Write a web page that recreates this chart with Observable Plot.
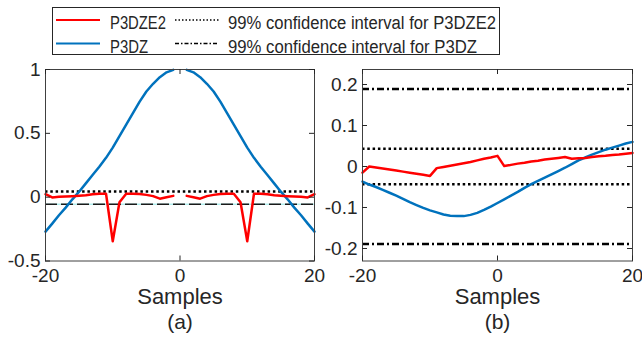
<!DOCTYPE html>
<html><head><meta charset="utf-8">
<script src="https://cdn.jsdelivr.net/npm/d3@7"></script>
<script src="https://cdn.jsdelivr.net/npm/@observablehq/plot@0.6"></script>
<style>
body{margin:0;background:#fff;font-family:"Liberation Sans",Arial,sans-serif;}
#wrap{position:relative;width:642px;height:344px;overflow:hidden;background:#fff}
#pa{position:absolute;left:0;top:0}
#pb{position:absolute;left:320px;top:0}
#legend{position:absolute;left:0;top:0}
</style></head><body>
<div id="wrap"><div id="pa"></div><div id="pb"></div><svg id="legend" width="642" height="60"></svg></div>
<script>
// ---- data ----
const lags = [-20,-19,-18,-17,-16,-15,-14,-13,-12,-11,-10,-9,-8,-7,-6,-5,-4,-3,-2,-1,0,1,2,3,4,5,6,7,8,9,10,11,12,13,14,15,16,17,18,19,20];
const p3dze2A = [0.023,-0.002,0.003,0.005,0.008,0.011,0.015,0.022,0.027,0.027,-0.345,-0.04,0.027,0.027,0.025,0.018,0.008,-0.012,0.0,0.01,
  null,
  0.01,0.0,-0.012,0.008,0.018,0.025,0.027,0.027,-0.04,-0.345,0.027,0.027,0.022,0.015,0.011,0.008,0.005,0.003,-0.002,0.023];
const p3dzA = [-0.27,-0.207,-0.142,-0.082,-0.017,0.043,0.108,0.173,0.238,0.308,0.388,0.478,0.568,0.658,0.748,0.828,0.888,0.94,0.978,0.997,
  null,
  0.997,0.978,0.94,0.888,0.828,0.748,0.658,0.568,0.478,0.388,0.308,0.238,0.173,0.108,0.043,-0.017,-0.082,-0.142,-0.207,-0.27];
const p3dze2B = [-0.015,0.0,-0.0025,-0.005,-0.0075,-0.01,-0.0125,-0.015,-0.0175,-0.02,-0.023,-0.004,-0.001,0.002,0.005,0.008,0.011,0.015,0.019,0.022,
  0.026,0.001,0.004,0.007,0.009,0.012,0.014,0.017,0.019,0.021,0.023,0.019,0.02,0.021,0.023,0.025,0.026,0.028,0.029,0.031,0.033];
const p3dzB = [-0.037,-0.044,-0.05,-0.057,-0.064,-0.071,-0.079,-0.087,-0.094,-0.101,-0.107,-0.112,-0.117,-0.12,-0.121,-0.121,-0.118,-0.113,-0.106,-0.098,
  -0.089,-0.08,-0.071,-0.062,-0.052,-0.043,-0.035,-0.027,-0.019,-0.011,-0.003,0.006,0.015,0.022,0.029,0.035,0.041,0.046,0.051,0.056,0.06];
const ciDottedA = [0.044];
const ciDashedA = [-0.055];
const ciP3DZE2B = [-0.043, 0.043];
const ciP3DZB = [-0.189, 0.189];
const xTicks = [-20, 0, 20];
const yTicksA = [-0.5, 0, 0.5, 1];
const yTicksB = [-0.2, -0.1, 0, 0.1, 0.2];
const legendLabels = ["P3DZE2", "P3DZ", "99% confidence interval for P3DZE2", "99% confidence interval for P3DZ"];
const panelLabels = ["(a)", "(b)"];

const RED = "#ff0000", BLUE = "#0072bd", INK = "#262626";
const DOT = "2.5,2.8", DASHDOT = "7,3,2,3";
const rows = (ys) => lags.map((x, i) => ({x, y: ys[i]}));

function panel({width, ml, mr, yDomain, yTicks, marks, tag}) {
  const H = 344, mt = 69, mb = 83.5;
  const iw = width - ml - mr, ih = H - mt - mb;
  return Plot.plot({
    width, height: H, marginTop: mt, marginBottom: mb, marginLeft: ml, marginRight: mr,
    x: {domain: [-20, 20]},
    y: {domain: yDomain},
    style: {fontFamily: '"Liberation Sans", Arial, sans-serif', color: INK, background: "transparent", overflow: "visible"},
    marks: [
      ...marks,
      Plot.frame({stroke: "#404040", strokeWidth: 1}),
      Plot.tickY(yTicks, {y: d => d, insetRight: iw - 5, stroke: INK}),
      Plot.tickY(yTicks, {y: d => d, insetLeft: iw - 5, stroke: INK}),
      Plot.tickX(xTicks, {x: d => d, insetTop: ih - 5, stroke: INK}),
      Plot.tickX(xTicks, {x: d => d, insetBottom: ih - 5, stroke: INK}),
      Plot.axisY(yTicks, {anchor: "left", tickSize: 0, tickPadding: 5, fontSize: 19, tickFormat: d => String(d), label: null}),
      Plot.axisX(xTicks, {anchor: "bottom", tickSize: 0, tickPadding: 7.5, fontSize: 19, tickFormat: d => String(d), label: null}),
      Plot.text(["Samples"], {text: d => d, frameAnchor: "bottom", dy: 43, fontSize: 22, fill: INK}),
      Plot.text([tag], {text: d => d, frameAnchor: "bottom", dy: 68, fontSize: 21, fill: INK})
    ]
  });
}

const figA = panel({
  width: 320, ml: 45, mr: 6, yDomain: [-0.5, 1], yTicks: yTicksA, tag: panelLabels[0],
  marks: [
    Plot.ruleY(ciDashedA, {y: d => d, stroke: "#8fe6e6", strokeWidth: 1}),
    Plot.ruleY(ciDashedA, {y: d => d, stroke: "#1a1a1a", strokeWidth: 1.6, strokeDasharray: "12,4"}),
    Plot.ruleY(ciDottedA, {y: d => d, stroke: "#000", strokeWidth: 2.5, strokeDasharray: DOT}),
    Plot.line(rows(p3dzA), {x: "x", y: "y", stroke: BLUE, strokeWidth: 2.5}),
    Plot.line(rows(p3dze2A), {x: "x", y: "y", stroke: RED, strokeWidth: 2.5})
  ]
});
const figB = panel({
  width: 322, ml: 42, mr: 10, yDomain: [-0.2305, 0.2366], yTicks: yTicksB, tag: panelLabels[1],
  marks: [
    Plot.ruleY(ciP3DZB, {y: d => d, stroke: "#000", strokeWidth: 2.5, strokeDasharray: DASHDOT}),
    Plot.ruleY(ciP3DZE2B, {y: d => d, stroke: "#000", strokeWidth: 2.5, strokeDasharray: DOT}),
    Plot.line(rows(p3dzB), {x: "x", y: "y", stroke: BLUE, strokeWidth: 2.5}),
    Plot.line(rows(p3dze2B), {x: "x", y: "y", stroke: RED, strokeWidth: 2.5})
  ]
});
document.getElementById("pa").appendChild(figA);
document.getElementById("pb").appendChild(figB);

// ---- legend ----
const lg = d3.select("#legend");
lg.append("rect").attr("x", 52.5).attr("y", 7.5).attr("width", 447).attr("height", 47)
  .attr("fill", "#fff").attr("stroke", INK).attr("stroke-width", 1);
const items = [
  {lx: 56, ly: 20, stroke: RED, dash: null, w: 2, tx: 110, ty: 29, tl: 56, label: legendLabels[0]},
  {lx: 56, ly: 43.5, stroke: BLUE, dash: null, w: 2, tx: 110, ty: 53, tl: 38, label: legendLabels[1]},
  {lx: 175, ly: 20, stroke: "#000", dash: "1.5,2", w: 1.5, tx: 228, ty: 29, tl: 268, label: legendLabels[2]},
  {lx: 175, ly: 43.5, stroke: "#000", dash: "4,2,1.5,2", w: 1.5, tx: 228, ty: 53, tl: 249, label: legendLabels[3]}
];
for (const it of items) {
  lg.append("line").attr("x1", it.lx).attr("x2", it.lx + 44).attr("y1", it.ly).attr("y2", it.ly)
    .attr("stroke", it.stroke).attr("stroke-width", it.w).attr("stroke-dasharray", it.dash);
  lg.append("text").attr("x", it.tx).attr("y", it.ty).attr("font-size", 18)
    .attr("font-family", '"Liberation Sans", Arial, sans-serif').attr("fill", INK)
    .attr("textLength", it.tl).attr("lengthAdjust", "spacingAndGlyphs").text(it.label);
}
</script>
</body></html>
